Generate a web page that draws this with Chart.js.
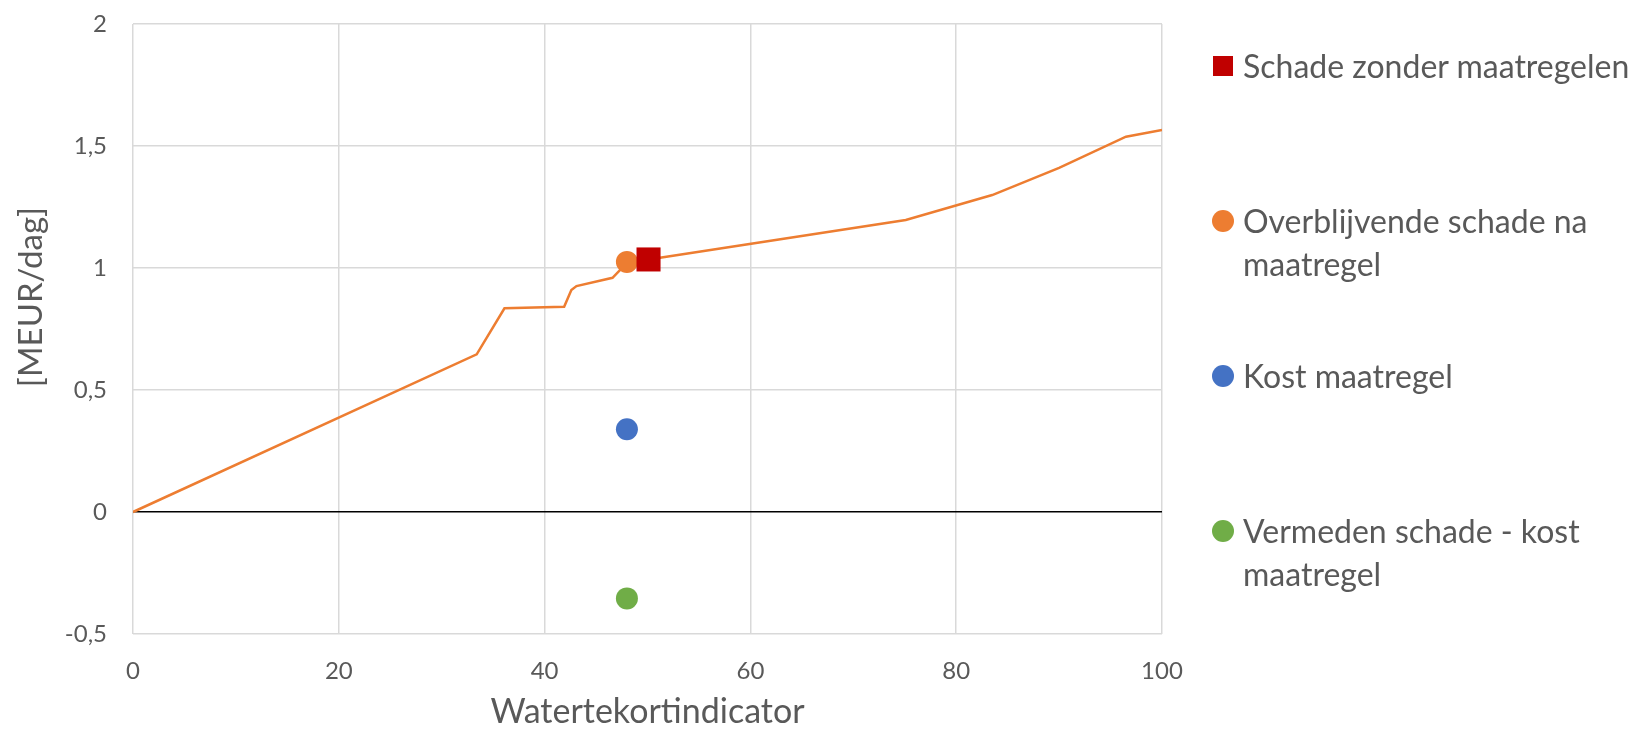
<!DOCTYPE html>
<html>
<head>
<meta charset="utf-8">
<script src="https://cdn.jsdelivr.net/npm/chart.js@4.4.1/dist/chart.umd.min.js"></script>
<style>
html,body{margin:0;padding:0;background:#fff;overflow:hidden;}
#wrap{position:relative;width:1639px;height:729px;}
#c{position:absolute;left:0;top:0;}
#legend{position:absolute;left:1212px;top:0;font-family:Lato,sans-serif;font-size:32px;color:#595959;}
.item{position:absolute;left:0;width:430px;line-height:43px;}
.mk{position:absolute;left:0;}
.tx{position:absolute;left:31px;top:0;width:400px;}
</style>
</head>
<body>
<div id="wrap">
<canvas id="c" width="1639" height="729"></canvas>
<div id="legend"></div>
</div>
<script>
// ---- data ----
const lineX = [0, 33.4, 36.1, 41.9, 42.6, 43.1, 46.6, 47.3, 48.1, 50.1, 75.1, 83.5, 90, 96.5, 100];
const lineY = [0, 0.646, 0.835, 0.841, 0.91, 0.926, 0.96, 0.99, 1.022, 1.035, 1.197, 1.299, 1.41, 1.538, 1.566];
const seriesLabels = ['Schade zonder maatregelen', 'Overblijvende schade na maatregel', 'Kost maatregel', 'Vermeden schade - kost maatregel'];
const pointX = [50.1, 48.0, 48.0, 48.0];
const pointY = [1.035, 1.025, 0.339, -0.354];
const xTicks = [0, 20, 40, 60, 80, 100];
const yTicks = [-0.5, 0, 0.5, 1, 1.5, 2];
const yTickLabels = ['-0,5', '0', '0,5', '1', '1,5', '2'];
const xTitle = 'Watertekortindicator';
const yTitle = '[MEUR/dag]';

// ---- styles ----
const colors = ['#C00000', '#ED7D31', '#4472C4', '#70AD47'];
const styles = ['rect', 'circle', 'circle', 'circle'];
const radii = [17, 11, 11, 11];
const textColor = '#595959';
const gridColor = '#d9d9d9';

const datasets = seriesLabels.map((lab, i) => ({
  label: lab,
  data: [{x: pointX[i], y: pointY[i]}],
  pointStyle: styles[i],
  pointRadius: radii[i],
  pointHoverRadius: radii[i],
  backgroundColor: colors[i],
  borderColor: colors[i],
  borderWidth: 0,
  showLine: false
}));
datasets.push({
  label: 'lijn',
  data: lineX.map((x, i) => ({x, y: lineY[i]})),
  showLine: true,
  borderColor: '#ED7D31',
  borderWidth: 2.5,
  pointRadius: 0,
  pointHoverRadius: 0,
  fill: false,
  tension: 0
});

const yTitlePlugin = {
  id: 'yTitle',
  afterDraw(chart) {
    const ctx = chart.ctx;
    ctx.save();
    ctx.font = '33px Lato';
    ctx.fillStyle = textColor;
    ctx.textAlign = 'center';
    ctx.textBaseline = 'middle';
    ctx.translate(31, 297);
    ctx.rotate(-Math.PI / 2);
    ctx.fillText(yTitle, 0, 0);
    ctx.restore();
  }
};

new Chart(document.getElementById('c'), {
  type: 'scatter',
  data: {datasets},
  plugins: [yTitlePlugin],
  options: {
    responsive: false,
    animation: false,
    layout: {padding: {left: 0, top: 24, right: 477, bottom: 0}},
    plugins: {legend: {display: false}, tooltip: {enabled: false}},
    scales: {
      x: {
        type: 'linear',
        min: 0, max: 100,
        afterBuildTicks(s) { s.ticks = xTicks.map(v => ({value: v})); },
        afterFit(s) { s.height = 95; s.paddingLeft = 0; s.paddingRight = 0; },
        ticks: {color: textColor, font: {family: 'Lato', size: 24}, padding: 23, maxRotation: 0},
        grid: {color: gridColor, lineWidth: 1.5, drawTicks: false},
        border: {display: false},
        title: {display: true, text: xTitle, color: textColor, font: {family: 'Lato', size: 34}, padding: {top: 0, bottom: -3}}
      },
      y: {
        type: 'linear',
        min: -0.5, max: 2,
        afterBuildTicks(s) { s.ticks = yTicks.map(v => ({value: v})); },
        afterFit(s) { s.width = 133; s.paddingTop = 0; s.paddingBottom = 0; },
        ticks: {
          color: textColor, font: {family: 'Lato', size: 24}, padding: 26,
          callback: (v) => { const i = yTicks.indexOf(v); return i >= 0 ? yTickLabels[i] : ''; }
        },
        grid: {
          color: (c) => (c.tick && c.tick.value === 0 ? '#000000' : gridColor),
          lineWidth: 1.5, drawTicks: false
        },
        border: {display: false}
      }
    }
  }
});

// ---- HTML legend built from datasets ----
const legend = document.getElementById('legend');
seriesLabels.forEach((lab, i) => {
  const item = document.createElement('div');
  item.className = 'item';
  item.style.top = (44 + i * 155) + 'px';
  const mk = document.createElement('div');
  mk.className = 'mk';
  const size = styles[i] === 'rect' ? 20 : 22;
  mk.style.width = size + 'px';
  mk.style.height = size + 'px';
  mk.style.top = ((43 - size) / 2) + 'px';
  mk.style.left = styles[i] === 'rect' ? '1px' : '0px';
  mk.style.background = colors[i];
  mk.style.borderRadius = styles[i] === 'rect' ? '0' : '50%';
  const tx = document.createElement('div');
  tx.className = 'tx';
  tx.textContent = lab;
  item.appendChild(mk);
  item.appendChild(tx);
  legend.appendChild(item);
});
</script>
</body>
</html>
